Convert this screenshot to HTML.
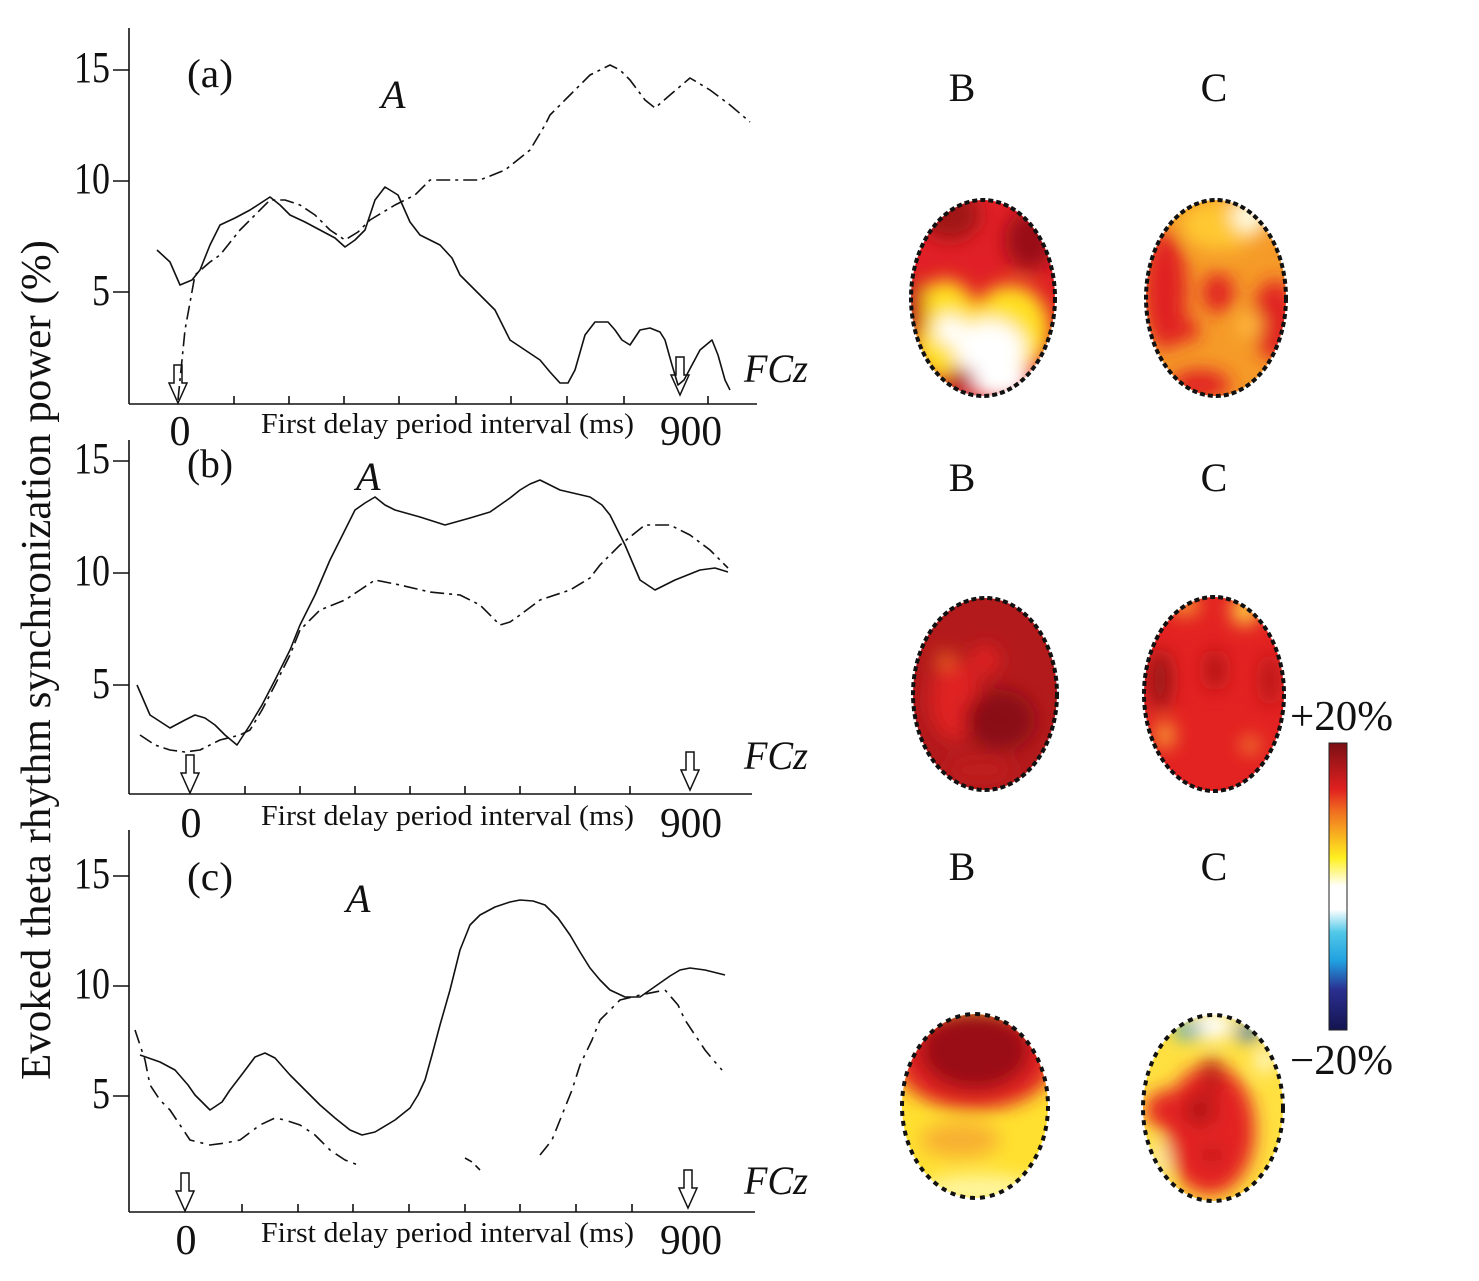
<!DOCTYPE html>
<html><head><meta charset="utf-8"><style>
html,body{margin:0;padding:0;background:#fff}
svg{display:block}
text{font-family:"Liberation Serif",serif;fill:#111}
</style></head><body>
<svg width="1479" height="1281" viewBox="0 0 1479 1281" xmlns="http://www.w3.org/2000/svg">
<defs>
<filter id="bl" x="-20%" y="-20%" width="140%" height="140%"><feGaussianBlur stdDeviation="9"/></filter>
<clipPath id="ha1"><ellipse cx="983" cy="298" rx="72" ry="98"/></clipPath>
<clipPath id="hb1"><ellipse cx="1216" cy="298" rx="70" ry="98"/></clipPath>
<clipPath id="ha2"><ellipse cx="985" cy="694" rx="72" ry="96"/></clipPath>
<clipPath id="hb2"><ellipse cx="1214" cy="694" rx="70" ry="97"/></clipPath>
<clipPath id="ha3"><ellipse cx="975" cy="1106" rx="73" ry="92"/></clipPath>
<clipPath id="hb3"><ellipse cx="1213" cy="1108" rx="70" ry="93"/></clipPath>
<linearGradient id="cb" x1="0" y1="0" x2="0" y2="1">
<stop offset="0" stop-color="#7a0f14"/><stop offset="0.16" stop-color="#e02020"/><stop offset="0.24" stop-color="#f07020"/><stop offset="0.32" stop-color="#f8b020"/><stop offset="0.4" stop-color="#fff020"/><stop offset="0.5" stop-color="#ffffff"/><stop offset="0.58" stop-color="#ffffff"/><stop offset="0.66" stop-color="#50c8e8"/><stop offset="0.76" stop-color="#20a0e0"/><stop offset="0.86" stop-color="#2a2f90"/><stop offset="1" stop-color="#141450"/>
</linearGradient>
</defs>

<!-- y label -->
<text transform="translate(50,660) rotate(-90)" font-size="42" text-anchor="middle" textLength="840" lengthAdjust="spacingAndGlyphs">Evoked theta rhythm synchronization power (%)</text>

<g stroke="#111" stroke-width="1.6" fill="none">
<path d="M129 28V404M129 404H757"/>
<path d="M113 70H129M113 181H129M113 292H129"/>
<path d="M234 404V396M289 404V396M344 404V396M399 404V396M456 404V396M511 404V396M567 404V396M624 404V396M708 404V396"/>
<path d="M129 440V794M129 794H752"/>
<path d="M113 461H129M113 573H129M113 685H129"/>
<path d="M245 794V786M300 794V786M355 794V786M410 794V786M465 794V786M520 794V786M575 794V786M630 794V786"/>
<path d="M129 830V1212M129 1212H755"/>
<path d="M113 876H129M113 986H129M113 1096H129"/>
<path d="M242 1212V1204M298 1212V1204M353 1212V1204M409 1212V1204M465 1212V1204M520 1212V1204M576 1212V1204M632 1212V1204"/>
</g>

<g stroke="#111" stroke-width="1.5" fill="#fff">
<path d="M174 365h8v18h5l-9 20l-9-20h5z"/>
<path d="M676 357h8v18h5l-9 20l-9-20h5z"/>
<path d="M186 755h8v18h5l-9 20l-9-20h5z"/>
<path d="M686 752h8v18h5l-9 20l-9-20h5z"/>
<path d="M181 1173h8v18h5l-9 20l-9-20h5z"/>
<path d="M684 1170h8v18h5l-9 20l-9-20h5z"/>
</g>

<g stroke="#111" stroke-width="1.6" fill="none" stroke-linejoin="round">
<polyline points="157,250 170,262 180,285 192,280 200,270 210,245 220,225 235,218 250,210 270,197 280,205 290,215 305,222 320,230 335,238 345,247 355,240 365,230 375,200 385,187 398,195 410,222 420,235 440,245 452,258 460,275 470,285 480,295 495,310 505,330 510,340 525,350 540,360 550,372 560,383 568,383 575,370 585,335 595,322 608,322 615,330 622,340 630,345 640,330 650,328 660,332 665,340 672,365 678,385 684,380 692,365 700,350 712,340 718,355 725,380 730,390"/>
<polyline stroke-dasharray="14,5,3,5" points="178,400 182,360 185,330 195,275 210,262 220,255 240,230 255,215 270,200 285,200 300,205 315,215 330,230 345,240 358,232 370,220 395,205 415,195 430,180 460,180 480,180 505,170 530,150 545,125 550,115 570,95 590,75 610,65 620,70 630,80 645,100 655,108 670,95 690,78 710,90 730,105 750,122"/>

<polyline points="137,685 150,715 170,728 185,720 195,715 205,718 215,725 225,735 237,745 250,725 262,705 275,680 290,650 300,625 315,595 330,560 345,530 355,510 365,503 375,497 385,505 395,510 420,517 445,525 470,518 490,512 500,505 510,498 520,490 530,484 540,480 550,485 560,490 590,497 602,505 610,515 625,545 640,580 655,590 675,580 700,570 715,568 728,572"/>
<polyline stroke-dasharray="14,5,3,5" points="140,735 155,745 170,750 185,752 200,750 220,740 240,735 250,730 262,710 275,685 290,655 300,630 320,610 345,600 360,590 375,580 400,585 430,592 460,595 480,605 500,625 510,622 520,615 540,600 570,590 590,578 600,565 620,545 645,525 670,525 690,535 710,550 728,568"/>

<polyline points="140,1055 160,1062 175,1070 188,1085 195,1095 210,1110 222,1102 230,1090 243,1073 255,1057 265,1053 275,1058 290,1075 305,1090 320,1105 335,1118 350,1130 362,1135 375,1132 395,1120 410,1108 418,1095 425,1080 432,1055 440,1025 450,990 460,950 470,925 480,915 495,907 510,902 520,900 533,901 545,905 558,918 570,935 580,952 590,968 600,980 610,990 625,997 640,997 650,990 660,983 670,976 680,970 690,968 705,970 725,975"/>
<polyline stroke-dasharray="14,6,3,6" points="135,1030 145,1060 150,1085 160,1100 170,1110 180,1125 190,1140 210,1145 225,1143 240,1140 260,1125 275,1118 285,1120 300,1125 315,1135 330,1150 345,1160 358,1165"/>
<polyline stroke-dasharray="8,5" points="465,1158 472,1162 480,1170"/>
<polyline stroke-dasharray="14,6,3,6" points="540,1155 552,1140 560,1120 572,1090 580,1065 592,1040 600,1020 610,1010 620,1000 640,995 665,990 678,1005 685,1020 695,1035 705,1050 715,1062 722,1070"/>
</g>

<g font-size="44" text-anchor="end" lengthAdjust="spacingAndGlyphs">
<text x="110" y="82" textLength="36" lengthAdjust="spacingAndGlyphs">15</text><text x="110" y="193" textLength="36" lengthAdjust="spacingAndGlyphs">10</text><text x="110" y="305" textLength="18" lengthAdjust="spacingAndGlyphs">5</text>
<text x="110" y="473" textLength="36" lengthAdjust="spacingAndGlyphs">15</text><text x="110" y="585" textLength="36" lengthAdjust="spacingAndGlyphs">10</text><text x="110" y="698" textLength="18" lengthAdjust="spacingAndGlyphs">5</text>
<text x="110" y="888" textLength="36" lengthAdjust="spacingAndGlyphs">15</text><text x="110" y="998" textLength="36" lengthAdjust="spacingAndGlyphs">10</text><text x="110" y="1108" textLength="18" lengthAdjust="spacingAndGlyphs">5</text>
</g>
<g font-size="40">
<text x="187" y="87" textLength="46" lengthAdjust="spacingAndGlyphs">(a)</text><text x="187" y="477" textLength="46" lengthAdjust="spacingAndGlyphs">(b)</text><text x="187" y="890" textLength="46" lengthAdjust="spacingAndGlyphs">(c)</text>
<text x="381" y="108" font-style="italic">A</text>
<text x="356" y="490" font-style="italic">A</text>
<text x="346" y="912" font-style="italic">A</text>
<text x="744" y="382" font-style="italic" textLength="64" lengthAdjust="spacingAndGlyphs">FCz</text>
<text x="744" y="769" font-style="italic" textLength="64" lengthAdjust="spacingAndGlyphs">FCz</text>
<text x="744" y="1194" font-style="italic" textLength="64" lengthAdjust="spacingAndGlyphs">FCz</text>
</g>
<g font-size="29">
<text x="261" y="433" textLength="373" lengthAdjust="spacingAndGlyphs">First delay period interval (ms)</text>
<text x="261" y="825" textLength="373" lengthAdjust="spacingAndGlyphs">First delay period interval (ms)</text>
<text x="261" y="1242" textLength="373" lengthAdjust="spacingAndGlyphs">First delay period interval (ms)</text>
</g>
<g font-size="42" text-anchor="middle">
<text x="180" y="445">0</text><text x="691" y="445" textLength="62" lengthAdjust="spacingAndGlyphs">900</text>
<text x="191" y="837">0</text><text x="691" y="837" textLength="62" lengthAdjust="spacingAndGlyphs">900</text>
<text x="186" y="1254">0</text><text x="691" y="1254" textLength="62" lengthAdjust="spacingAndGlyphs">900</text>
</g>
<g font-size="40" text-anchor="middle">
<text x="962" y="101">B</text><text x="1214" y="101">C</text>
<text x="962" y="491">B</text><text x="1214" y="491">C</text>
<text x="962" y="880">B</text><text x="1214" y="880">C</text>
</g>
<g font-size="42">
<text x="1290" y="730" textLength="103" lengthAdjust="spacingAndGlyphs">+20%</text>
<text x="1290" y="1074" textLength="103" lengthAdjust="spacingAndGlyphs">−20%</text>
</g>

<rect x="1329" y="743" width="18" height="287" fill="url(#cb)" stroke="#222" stroke-width="1"/>

<g clip-path="url(#ha1)">
<rect x="900" y="190" width="170" height="220" fill="#e02026"/>
<g filter="url(#bl)">
<ellipse cx="950" cy="215" rx="30" ry="25" fill="#a01418"/>
<ellipse cx="1030" cy="240" rx="25" ry="30" fill="#9a1015"/>
<ellipse cx="945" cy="330" rx="35" ry="50" fill="#ffe020"/>
<ellipse cx="1010" cy="330" rx="40" ry="45" fill="#ffe020"/>
<ellipse cx="990" cy="350" rx="35" ry="30" fill="#ffffff"/>
<ellipse cx="950" cy="330" rx="15" ry="15" fill="#ffffff"/>
<ellipse cx="1000" cy="380" rx="30" ry="20" fill="#fff"/>
<ellipse cx="960" cy="380" rx="15" ry="12" fill="#b02018"/>
<ellipse cx="915" cy="310" rx="10" ry="30" fill="#c01a1a"/>
</g>
</g>
<ellipse cx="983" cy="298" rx="72" ry="98" fill="none" stroke="#111" stroke-width="4" stroke-dasharray="5,3"/>

<g clip-path="url(#hb1)">
<rect x="1140" y="190" width="160" height="220" fill="#f59a28"/>
<g filter="url(#bl)">
<ellipse cx="1165" cy="290" rx="22" ry="60" fill="#e02020"/>
<ellipse cx="1275" cy="320" rx="22" ry="40" fill="#e02020"/>
<ellipse cx="1218" cy="293" rx="16" ry="20" fill="#e02020"/>
<ellipse cx="1185" cy="330" rx="14" ry="12" fill="#e02020"/>
<ellipse cx="1200" cy="385" rx="30" ry="15" fill="#e02020"/>
<ellipse cx="1220" cy="225" rx="40" ry="25" fill="#ffc830"/>
<ellipse cx="1250" cy="215" rx="18" ry="18" fill="#fffbe0"/>
<ellipse cx="1250" cy="325" rx="12" ry="12" fill="#ffc040"/>
</g>
</g>
<ellipse cx="1216" cy="298" rx="70" ry="98" fill="none" stroke="#111" stroke-width="4" stroke-dasharray="5,3"/>

<g clip-path="url(#ha2)">
<rect x="900" y="590" width="170" height="210" fill="#b31a1c"/>
<g filter="url(#bl)">
<ellipse cx="955" cy="700" rx="25" ry="40" fill="#e02020"/>
<ellipse cx="985" cy="660" rx="15" ry="15" fill="#e02020"/>
<ellipse cx="945" cy="660" rx="8" ry="8" fill="#f07020"/>
<ellipse cx="1000" cy="720" rx="35" ry="30" fill="#8a1014"/>
<ellipse cx="980" cy="770" rx="35" ry="15" fill="#c01c1c"/>
</g>
</g>
<ellipse cx="985" cy="694" rx="72" ry="96" fill="none" stroke="#111" stroke-width="4" stroke-dasharray="5,3"/>

<g clip-path="url(#hb2)">
<rect x="1140" y="590" width="160" height="210" fill="#e32222"/>
<g filter="url(#bl)">
<ellipse cx="1160" cy="680" rx="12" ry="30" fill="#9a1418"/>
<ellipse cx="1215" cy="670" rx="10" ry="20" fill="#b01818"/>
<ellipse cx="1185" cy="605" rx="15" ry="10" fill="#f8a030"/>
<ellipse cx="1245" cy="610" rx="14" ry="15" fill="#ffd040"/>
<ellipse cx="1165" cy="735" rx="10" ry="14" fill="#f8a030"/>
<ellipse cx="1250" cy="745" rx="8" ry="8" fill="#f8a030"/>
<ellipse cx="1270" cy="680" rx="8" ry="25" fill="#b01818"/>
</g>
</g>
<ellipse cx="1214" cy="694" rx="70" ry="97" fill="none" stroke="#111" stroke-width="4" stroke-dasharray="5,3"/>

<g clip-path="url(#ha3)">
<rect x="895" y="1010" width="170" height="200" fill="#ffe030"/>
<g filter="url(#bl)">
<ellipse cx="975" cy="1060" rx="80" ry="50" fill="#e02020"/>
<ellipse cx="975" cy="1050" rx="55" ry="40" fill="#9a1014"/>
<ellipse cx="960" cy="1140" rx="40" ry="18" fill="#f8b030"/>
<ellipse cx="980" cy="1190" rx="60" ry="15" fill="#fff6a0"/>
</g>
</g>
<ellipse cx="975" cy="1106" rx="73" ry="92" fill="none" stroke="#111" stroke-width="4" stroke-dasharray="5,5"/>

<g clip-path="url(#hb3)">
<rect x="1140" y="1010" width="160" height="200" fill="#ffe040"/>
<g filter="url(#bl)">
<ellipse cx="1210" cy="1130" rx="45" ry="65" fill="#e32222"/>
<ellipse cx="1170" cy="1110" rx="25" ry="20" fill="#e32222"/>
<ellipse cx="1200" cy="1110" rx="15" ry="15" fill="#b01818"/>
<ellipse cx="1212" cy="1075" rx="8" ry="20" fill="#b01818"/>
<ellipse cx="1212" cy="1155" rx="8" ry="8" fill="#b01818"/>
<ellipse cx="1213" cy="1025" rx="20" ry="15" fill="#ffffff"/>
<ellipse cx="1188" cy="1030" rx="14" ry="8" fill="#30a0e0"/>
<ellipse cx="1248" cy="1032" rx="14" ry="8" fill="#2070d0"/>
<ellipse cx="1265" cy="1060" rx="8" ry="12" fill="#fff"/>
<ellipse cx="1160" cy="1160" rx="10" ry="20" fill="#fff0a0"/>
</g>
</g>
<ellipse cx="1213" cy="1108" rx="70" ry="93" fill="none" stroke="#111" stroke-width="4" stroke-dasharray="5,5"/>
</svg>
</body></html>
